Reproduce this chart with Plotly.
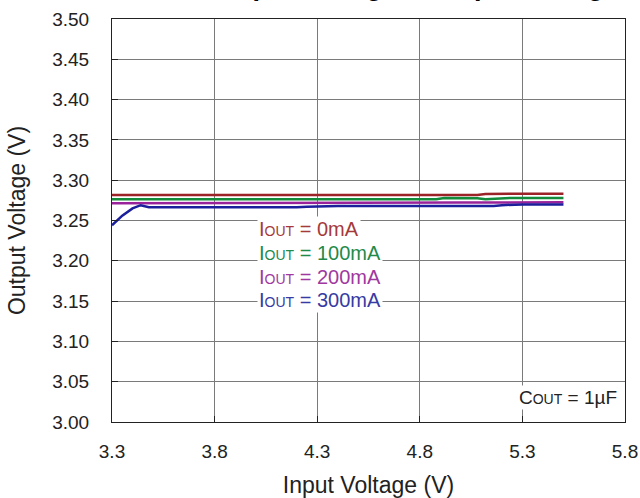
import plotly.graph_objects as go

# ---- data ----
vin = [3.30, 3.35, 3.40, 3.44, 3.48, 3.60, 3.80, 4.00, 4.20, 4.25, 4.40, 4.60,
       4.80, 4.88, 4.92, 5.00, 5.08, 5.12, 5.16, 5.20, 5.25, 5.30, 5.40, 5.50]
vout_0ma = [3.2816, 3.2816, 3.2816, 3.2816, 3.2816, 3.2816, 3.2816, 3.2816, 3.2816, 3.2816, 3.2816, 3.2816,
            3.2816, 3.2816, 3.2816, 3.2816, 3.2816, 3.2830, 3.2832, 3.2832, 3.2832, 3.2832, 3.2832, 3.2832]
vout_100ma = [3.2763, 3.2763, 3.2763, 3.2763, 3.2763, 3.2763, 3.2763, 3.2763, 3.2763, 3.2763, 3.2763, 3.2763,
              3.2763, 3.2763, 3.2778, 3.2778, 3.2776, 3.2765, 3.2770, 3.2780, 3.2780, 3.2780, 3.2780, 3.2780]
vout_200ma = [3.2713, 3.2713, 3.2713, 3.2713, 3.2713, 3.2713, 3.2713, 3.2713, 3.2713, 3.2713, 3.2716, 3.2718,
              3.2720, 3.2720, 3.2720, 3.2722, 3.2724, 3.2724, 3.2725, 3.2726, 3.2726, 3.2726, 3.2726, 3.2726]
vout_300ma = [3.2440, 3.2560, 3.2650, 3.2690, 3.2665, 3.2664, 3.2664, 3.2664, 3.2664, 3.2672, 3.2680, 3.2680,
              3.2680, 3.2680, 3.2680, 3.2680, 3.2680, 3.2680, 3.2680, 3.2690, 3.2698, 3.2700, 3.2700, 3.2700]

series_names = ["IOUT = 0mA", "IOUT = 100mA", "IOUT = 200mA", "IOUT = 300mA"]
series_values = [vout_0ma, vout_100ma, vout_200ma, vout_300ma]
line_colors = ["#9b2226", "#118a3a", "#99229b", "#1c1f9c"]
text_colors = ["#a53a3a", "#1f8a4a", "#a0389f", "#373ba3"]
legend_values = ["0mA", "100mA", "200mA", "300mA"]
legend_y = [0.4777, 0.4194, 0.3610, 0.3027]

x_ticks = [3.3, 3.8, 4.3, 4.8, 5.3, 5.8]
y_ticks = [3.00, 3.05, 3.10, 3.15, 3.20, 3.25, 3.30, 3.35, 3.40, 3.45, 3.50]

FONT = "Arial, Liberation Sans, sans-serif"

fig = go.Figure()
for name, vals, col in zip(series_names, series_values, line_colors):
    fig.add_trace(go.Scatter(x=vin, y=vals, mode="lines", name=name,
                             line=dict(color=col, width=2.5), showlegend=False))

fig.update_layout(
    width=640, height=498,
    margin=dict(l=112, r=15, t=19, b=76),
    paper_bgcolor="white", plot_bgcolor="white",
    font=dict(family=FONT, color="#222222"),
    showlegend=False,
)

axis_common = dict(showline=True, linecolor="#222222", linewidth=1, mirror=True,
                   showgrid=True, gridcolor="#7a7a7a", gridwidth=1, zeroline=False,
                   ticks="inside", ticklen=6, tickcolor="#222222", automargin=False,
                   tickfont=dict(size=19, family=FONT, color="#222222"))

fig.update_xaxes(range=[3.3, 5.8], tickvals=x_ticks, ticktext=[f"{v:.1f}" for v in x_ticks],
                 ticklabelstandoff=12,
                 title=dict(text="Input Voltage (V)", font=dict(size=23, family=FONT, color="#222222"), standoff=18),
                 **axis_common)
fig.update_yaxes(range=[3.0, 3.5], tickvals=y_ticks, ticktext=[f"{v:.2f}" for v in y_ticks],
                 ticklabelstandoff=18,
                 title=dict(text="Output Voltage (V)", font=dict(size=23, family=FONT, color="#222222"), standoff=20),
                 **axis_common)

# cropped chart title at very top
fig.add_annotation(text="<b>Output Voltage vs. Input Voltage</b>", xref="paper", yref="paper",
                   x=0.179, y=1.0815, xanchor="left", yanchor="middle", showarrow=False,
                   font=dict(size=27, family=FONT, color="black"))

# series labels
for v, c, yy in zip(legend_values, text_colors, legend_y):
    fig.add_annotation(text=f"I<span style='font-size:14px'>OUT</span> = {v}", xref="paper", yref="paper",
                       x=0.2827, y=yy, xanchor="left", yanchor="middle", align="left",
                       showarrow=False, bgcolor="white", borderpad=1,
                       font=dict(size=20, family=FONT, color=c))

fig.add_annotation(text="C<span style='font-size:14px'>OUT</span> = 1\u00b5F", xref="paper", yref="paper",
                   x=0.988, y=0.062, xanchor="right", yanchor="middle", showarrow=False,
                   bgcolor="white", borderpad=1,
                   font=dict(size=19, family=FONT, color="#222222"))

fig.write_html("out.html", config={"displayModeBar": False},
               post_script="document.body.style.margin='0';document.body.style.overflow='hidden';")
